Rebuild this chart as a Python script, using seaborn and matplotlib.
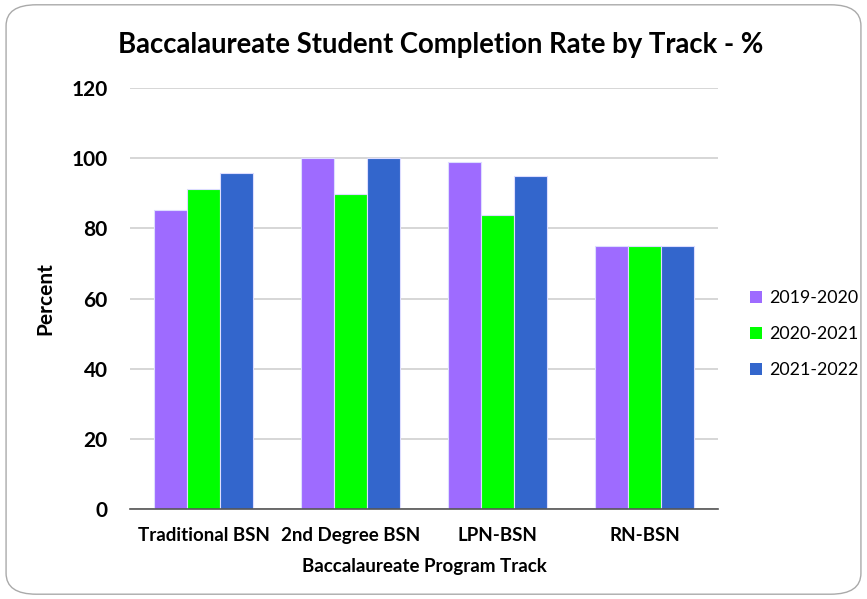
import matplotlib
matplotlib.use("Agg")
import matplotlib.pyplot as plt
import seaborn as sns
import pandas as pd
from matplotlib.patches import FancyBboxPatch
from matplotlib.ticker import FixedLocator

tracks = ["Traditional BSN", "2nd Degree BSN", "LPN-BSN", "RN-BSN"]
years = ["2019-2020", "2020-2021", "2021-2022"]
v2019 = [85.2, 100, 98.8, 75]
v2020 = [91.1, 89.9, 83.9, 75]
v2021 = [95.7, 100, 94.8, 75]
colors = ["#9E6BFF", "#00FF00", "#3366CC"]
yticks = [0, 20, 40, 60, 80, 100, 120]

rows = []
for yr, vals in zip(years, [v2019, v2020, v2021]):
    for t, v in zip(tracks, vals):
        rows.append({"Track": t, "Year": yr, "Percent": v})
df = pd.DataFrame(rows)

sns.set_theme(style="white")
plt.rcParams["font.family"] = ["Lato", "DejaVu Sans"]
plt.rcParams["text.color"] = "black"
plt.rcParams["xtick.color"] = "black"
plt.rcParams["ytick.color"] = "black"
plt.rcParams["axes.labelcolor"] = "black"

fig = plt.figure(figsize=(8.67, 5.99), dpi=100)
ax = fig.add_axes([0.150, 0.150, 0.678, 0.703])

sns.barplot(data=df, x="Track", y="Percent", hue="Year", palette=colors,
            width=0.67, ax=ax, saturation=1, legend=True, linewidth=0.8,
            edgecolor="#DDDDFF")

ax.set_ylim(0, 120)
ax.set_xlim(-0.5, len(tracks) - 0.5)
ax.set_yticks(yticks)
ax.set_yticklabels([str(t) for t in yticks], fontsize=15, fontweight="bold")
ax.yaxis.grid(True, color="#D0D0D0", linewidth=1.2)
ax.set_axisbelow(True)
for s in ["left", "right", "top"]:
    ax.spines[s].set_visible(False)
ax.spines["bottom"].set_color("#555555")
ax.spines["bottom"].set_linewidth(1.2)
ax.tick_params(axis="y", length=0, pad=16, labelcolor="black")

# category ticks: centers (major, inward) and boundaries (minor, crossing)
ax.set_xticks(range(len(tracks)))
ax.set_xticklabels(tracks, fontsize=13.5, fontweight="bold")
ax.tick_params(axis="x", which="major", direction="in", length=5, color="#555555",
               pad=13, labelcolor="black")
ax.xaxis.set_minor_locator(FixedLocator([i - 0.5 for i in range(len(tracks) + 1)]))
ax.tick_params(axis="x", which="minor", direction="inout", length=10, color="#555555")

ax.set_xlabel("Baccalaureate Program Track", fontsize=13.5, fontweight="bold",
              labelpad=10, color="black")
ax.set_ylabel("Percent", fontsize=15, fontweight="bold", labelpad=12, color="black")

leg = ax.legend(loc="center left", bbox_to_anchor=(1.054, 0.416), frameon=False,
                fontsize=12.8, handlelength=0.67, handleheight=0.67,
                labelspacing=1.12, handletextpad=0.45, borderpad=0, borderaxespad=0)
for h in leg.legend_handles:
    h.set_edgecolor("none")
for t in leg.get_texts():
    t.set_color("black")

fig.text(0.508, 0.925, "Baccalaureate Student Completion Rate by Track - %",
         ha="center", va="center", fontsize=19.8, fontweight="bold", color="black")

box = FancyBboxPatch((0.007, 0.008), 0.986, 0.984, transform=fig.transFigure,
                     boxstyle="round,pad=0,rounding_size=0.035",
                     facecolor="none", edgecolor="#AAAAAA", linewidth=1.0)
fig.patches.append(box)

fig.savefig("out.png", dpi=100)
